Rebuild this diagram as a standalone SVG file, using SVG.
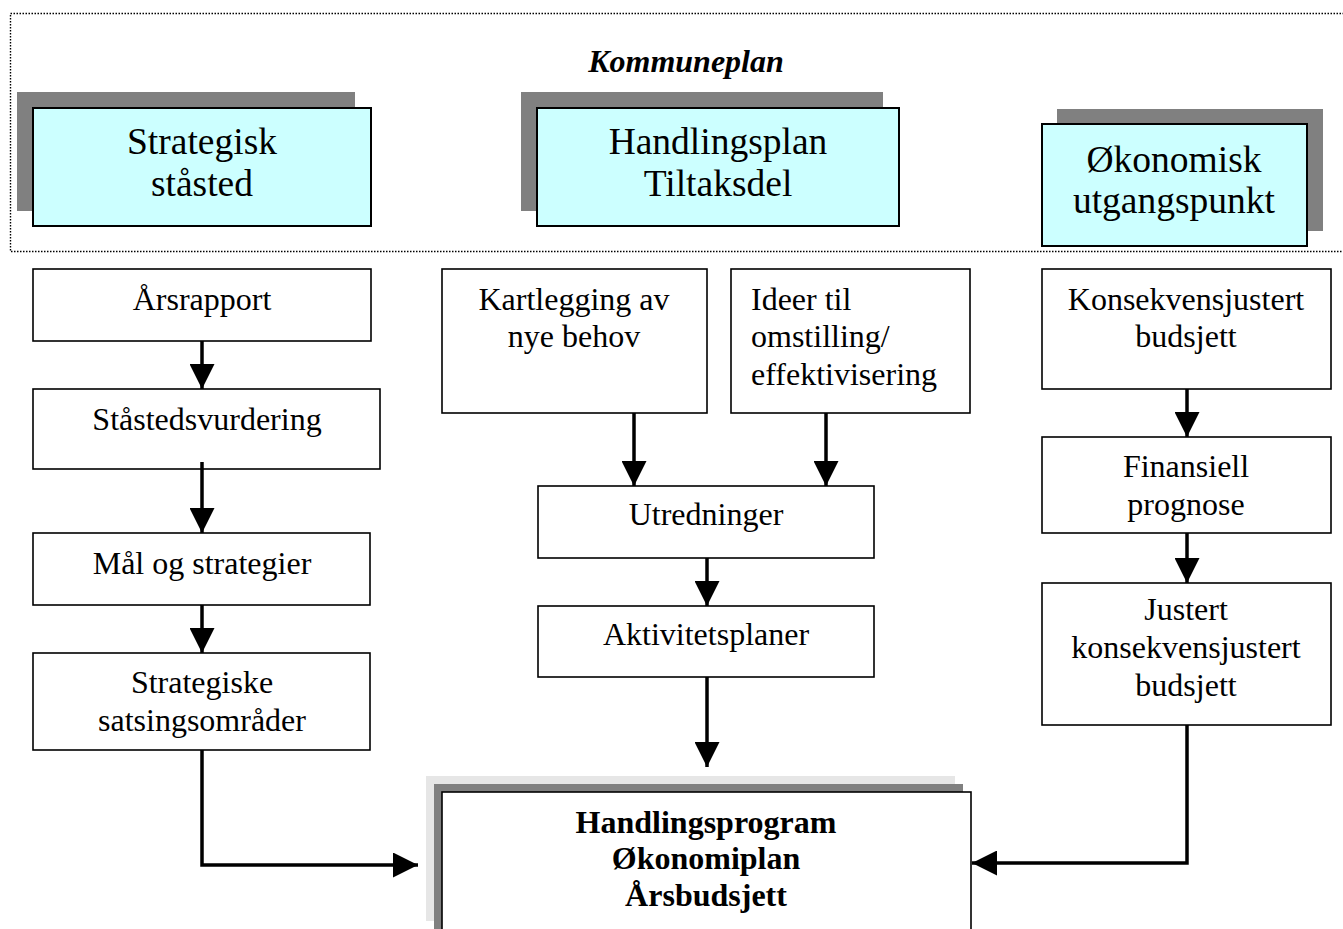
<svg xmlns="http://www.w3.org/2000/svg" width="1343" height="929" viewBox="0 0 1343 929">
<style>
.t{font-family:"Liberation Serif","Times New Roman",serif;font-size:32px;fill:#000;text-anchor:middle}
.tl{text-anchor:start}
.big{font-size:37.5px}
.b{font-weight:bold}
.box{fill:#fff;stroke:#000;stroke-width:1.6}
.cyan{fill:#ccffff;stroke:#000;stroke-width:2}
.sh{fill:#808080}
.lt{fill:#e6e6e6}
.c{fill:none;stroke:#000;stroke-width:3.5}
</style>
<defs>
<marker id="ah" viewBox="0 0 10 10" refX="10" refY="5" markerWidth="25" markerHeight="25" markerUnits="userSpaceOnUse" orient="auto">
<path d="M0,0 L10,5 L0,10 z" fill="#000"/>
</marker>
</defs>
<rect x="10.5" y="13.5" width="1340" height="238" fill="none" stroke="#000" stroke-width="1.4" stroke-dasharray="1.5,1.5"/>
<text class="t b" x="686" y="72" style="font-style:italic">Kommuneplan</text>
<g id="strategisk">
<rect class="sh" x="17" y="92" width="338" height="119"/>
<rect class="cyan" x="33" y="108" width="338" height="118"/>
<text class="t big" x="202" y="154">Strategisk</text>
<text class="t big" x="202" y="196">ståsted</text>
</g>
<g id="handlingsplan">
<rect class="sh" x="521" y="92" width="362" height="119"/>
<rect class="cyan" x="537" y="108" width="362" height="118"/>
<text class="t big" x="718" y="154">Handlingsplan</text>
<text class="t big" x="718" y="196">Tiltaksdel</text>
</g>
<g id="okonomisk">
<rect class="sh" x="1057" y="109" width="266" height="122"/>
<rect class="cyan" x="1042" y="124" width="265" height="122"/>
<text class="t big" x="1174" y="172">Økonomisk</text>
<text class="t big" x="1174" y="213">utgangspunkt</text>
</g>
<g id="arsrapport">
<rect class="box" x="33" y="269" width="338" height="72"/>
<text class="t" x="202" y="310">Årsrapport</text>
</g>
<g id="stastedsvurdering">
<rect class="box" x="33" y="389" width="347" height="80"/>
<text class="t" x="207" y="430">Ståstedsvurdering</text>
</g>
<g id="mal">
<rect class="box" x="33" y="533" width="337" height="72"/>
<text class="t" x="202" y="574">Mål og strategier</text>
</g>
<g id="satsingsomrader">
<rect class="box" x="33" y="653" width="337" height="97"/>
<text class="t" x="202" y="693">Strategiske</text>
<text class="t" x="202" y="731">satsingsområder</text>
</g>
<g id="kartlegging">
<rect class="box" x="442" y="269" width="265" height="144"/>
<text class="t" x="574" y="310">Kartlegging av</text>
<text class="t" x="574" y="347">nye behov</text>
</g>
<g id="ideer">
<rect class="box" x="731" y="269" width="239" height="144"/>
<text class="t tl" x="751" y="310">Ideer til</text>
<text class="t tl" x="751" y="347">omstilling/</text>
<text class="t tl" x="751" y="385">effektivisering</text>
</g>
<g id="utredninger">
<rect class="box" x="538" y="486" width="336" height="72"/>
<text class="t" x="706" y="525">Utredninger</text>
</g>
<g id="aktivitetsplaner">
<rect class="box" x="538" y="606" width="336" height="71"/>
<text class="t" x="706" y="645">Aktivitetsplaner</text>
</g>
<g id="konsekvensjustert">
<rect class="box" x="1042" y="269" width="289" height="120"/>
<text class="t" x="1186" y="310">Konsekvensjustert</text>
<text class="t" x="1186" y="347">budsjett</text>
</g>
<g id="finansiell">
<rect class="box" x="1042" y="437" width="289" height="96"/>
<text class="t" x="1186" y="477">Finansiell</text>
<text class="t" x="1186" y="515">prognose</text>
</g>
<g id="justert">
<rect class="box" x="1042" y="583" width="289" height="142"/>
<text class="t" x="1186" y="620">Justert</text>
<text class="t" x="1186" y="658">konsekvensjustert</text>
<text class="t" x="1186" y="696">budsjett</text>
</g>
<g id="handlingsprogram">
<rect class="lt" x="426" y="776" width="529" height="145"/>
<rect class="sh" x="434" y="784" width="529" height="150"/>
<rect class="box" x="442" y="792" width="529" height="150" stroke-width="2"/>
<text class="t b" x="706" y="833">Handlingsprogram</text>
<text class="t b" x="706" y="869">Økonomiplan</text>
<text class="t b" x="706" y="906">Årsbudsjett</text>
</g>
<g id="connectors">
<line class="c" x1="202" y1="341" x2="202" y2="389" marker-end="url(#ah)"/>
<line class="c" x1="202" y1="462" x2="202" y2="533" marker-end="url(#ah)"/>
<line class="c" x1="202" y1="605" x2="202" y2="653" marker-end="url(#ah)"/>
<polyline class="c" points="202,750 202,865 418,865" marker-end="url(#ah)"/>
<line class="c" x1="634" y1="413" x2="634" y2="486" marker-end="url(#ah)"/>
<line class="c" x1="826" y1="413" x2="826" y2="486" marker-end="url(#ah)"/>
<line class="c" x1="707" y1="558" x2="707" y2="606" marker-end="url(#ah)"/>
<line class="c" x1="707" y1="677" x2="707" y2="767" marker-end="url(#ah)"/>
<line class="c" x1="1187" y1="389" x2="1187" y2="437" marker-end="url(#ah)"/>
<line class="c" x1="1187" y1="533" x2="1187" y2="583" marker-end="url(#ah)"/>
<polyline class="c" points="1187,725 1187,863 972,863" marker-end="url(#ah)"/>
</g>
</svg>
